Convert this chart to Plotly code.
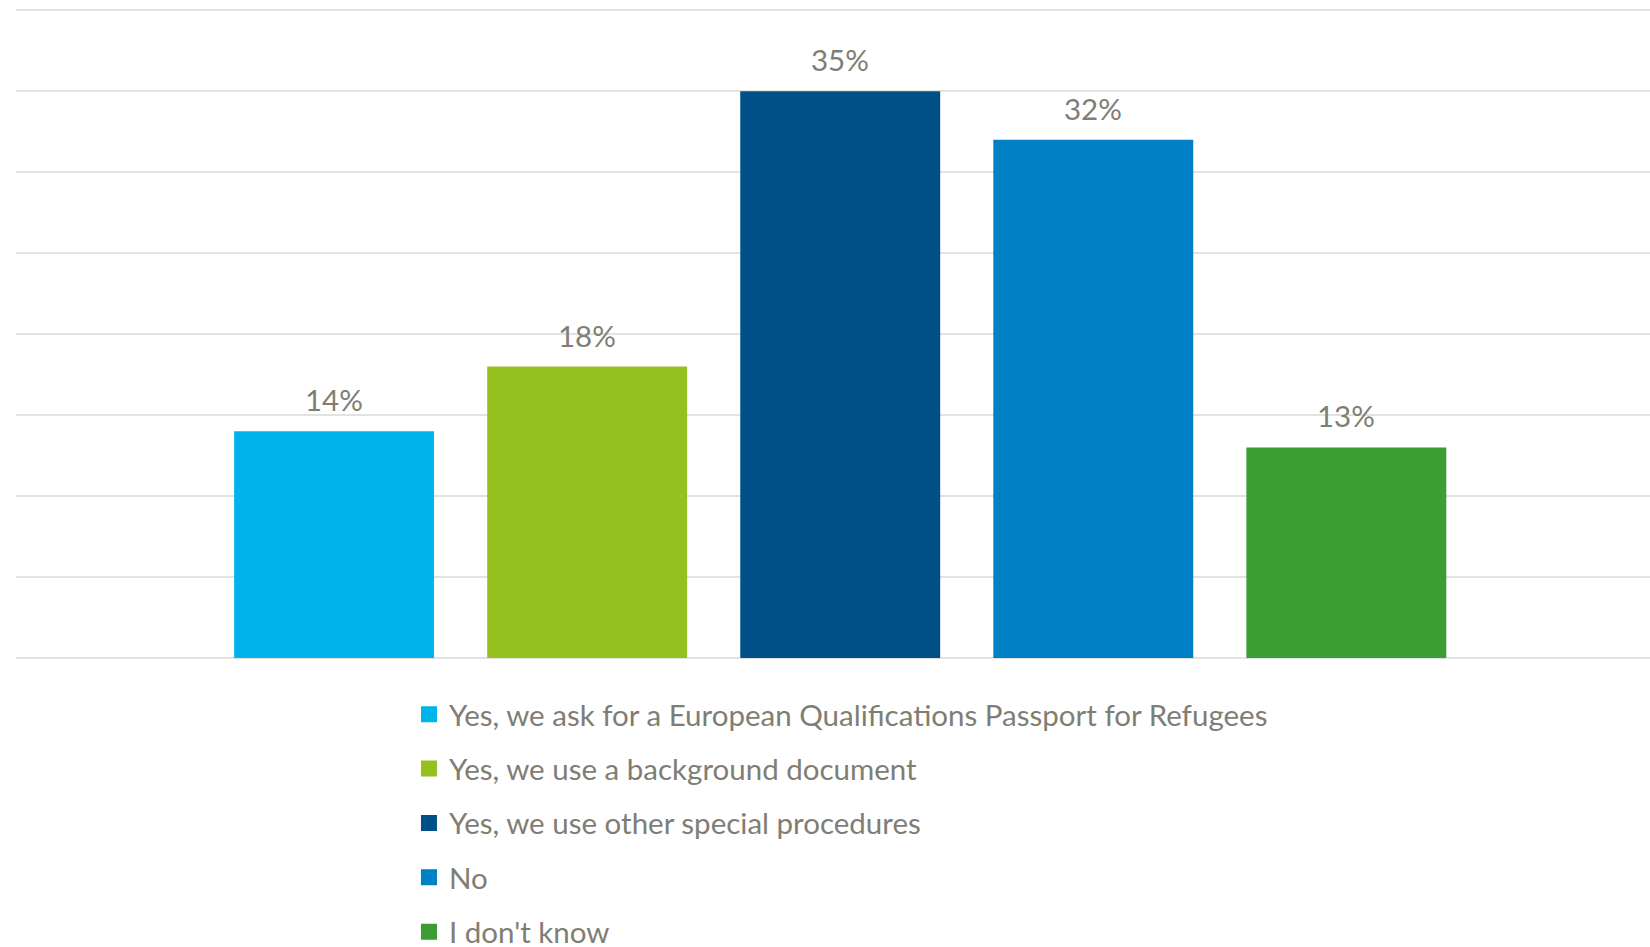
import plotly.graph_objects as go

categories = [
    "Yes, we ask for a European Qualifications Passport for Refugees",
    "Yes, we use a background document",
    "Yes, we use other special procedures",
    "No",
    "I don't know",
]
values = [14, 18, 35, 32, 13]
labels = ["14%", "18%", "35%", "32%", "13%"]
colors = ["#00b4eb", "#95c11f", "#005088", "#0081c6", "#3a9e33"]

TEXT_COLOR = "#7f7e74"
FONT = "Lato, 'Open Sans', sans-serif"

fig = go.Figure()
for i, (cat, v, c) in enumerate(zip(categories, values, colors)):
    fig.add_trace(go.Bar(
        x=[i], y=[v], name=cat, marker=dict(color=c, line=dict(width=0)),
        width=0.79, showlegend=False, hoverinfo="skip",
    ))
    # legend entry with a larger square symbol
    fig.add_trace(go.Scatter(
        x=[None], y=[None], mode="markers", name=cat,
        marker=dict(symbol="square", size=16, color=c),
        legendgroup=f"g{i}", showlegend=True, hoverinfo="skip",
    ))
    fig.add_annotation(
        x=i, y=v, text=labels[i], showarrow=False, yanchor="bottom",
        yshift=12, font=dict(size=29.5, color=TEXT_COLOR, family=FONT),
    )

fig.update_layout(
    width=1650, height=947,
    margin=dict(l=16, r=0, t=7, b=289, autoexpand=False),
    paper_bgcolor="white", plot_bgcolor="white",
    barmode="overlay",
    font=dict(family=FONT, color=TEXT_COLOR),
    showlegend=True,
    legend=dict(
        orientation="v", x=0.2405, xanchor="left", y=-0.047, yanchor="top",
        font=dict(size=29.5, color=TEXT_COLOR, family=FONT),
        tracegroupgap=13, itemwidth=30, bgcolor="rgba(0,0,0,0)",
        itemsizing="trace",
    ),
    xaxis=dict(range=[-1.257, 5.20], showgrid=False, showticklabels=False,
               zeroline=False, showline=False, ticks=""),
    yaxis=dict(range=[0, 40.2], tickvals=[0, 5, 10, 15, 20, 25, 30, 35, 40],
               showgrid=True, gridcolor="#e2e2e2",
               gridwidth=2, showticklabels=False, zeroline=True,
               zerolinecolor="#e2e2e2", zerolinewidth=2,
               showline=False, ticks=""),
)

fig.write_html(
    "out.html",
    config={"displayModeBar": False},
    post_script="document.body.style.margin='0';document.body.style.overflow='hidden';",
)
